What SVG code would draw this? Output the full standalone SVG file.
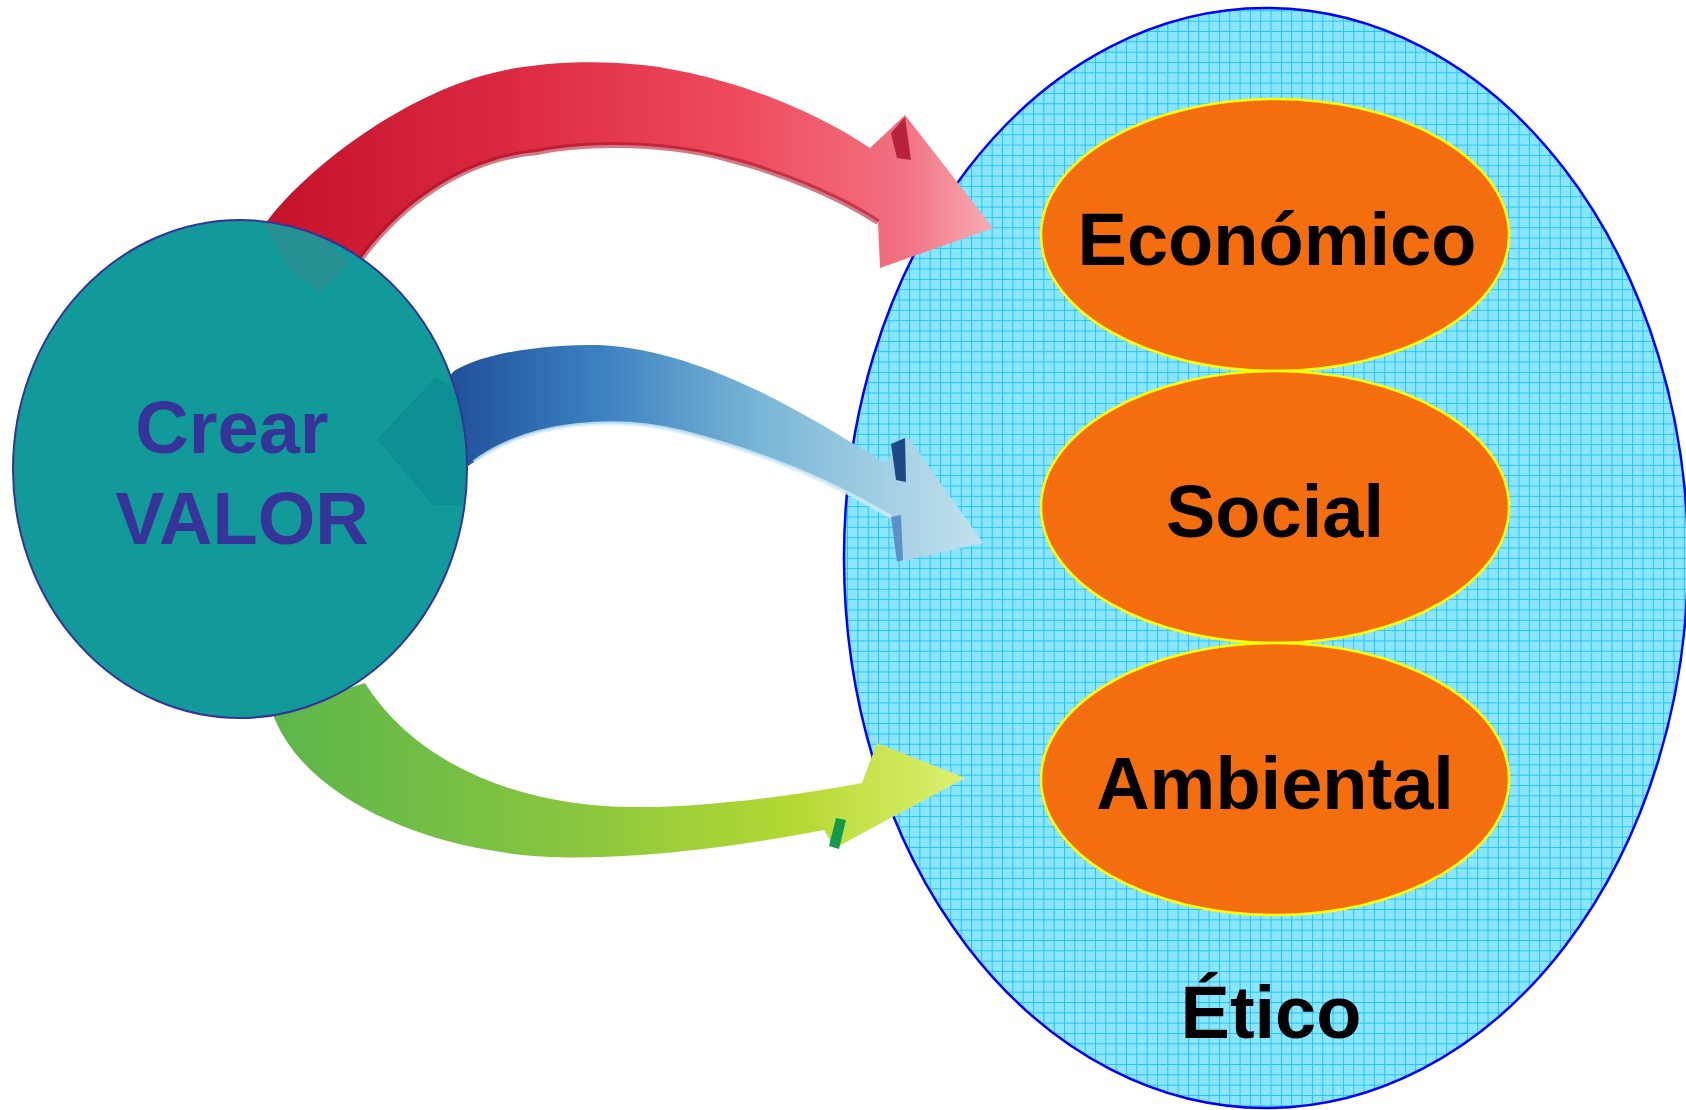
<svg xmlns="http://www.w3.org/2000/svg" width="1686" height="1110" viewBox="0 0 1686 1110">
<style>
.lbl{font-family:"Liberation Sans",Arial,sans-serif;font-weight:bold;font-size:74px;text-anchor:middle;fill:#000}
.crear{font-family:"Liberation Sans",Arial,sans-serif;font-weight:bold;font-size:74px;text-anchor:middle;fill:#363399}
.orange{fill:url(#orangeTex);stroke:#ffff00;stroke-width:2.5}
</style>
<defs>
<pattern id="grid" patternUnits="userSpaceOnUse" width="10.33" height="10.33">
<rect width="10.33" height="10.33" fill="#8be5ff"/>
<path d="M0 0.5 H10.33 M0.5 0 V10.33" stroke="#1fc6f4" stroke-width="1"/>
</pattern>
<pattern id="orangeTex" patternUnits="userSpaceOnUse" width="4" height="4">
<rect width="4" height="4" fill="#fd6c04"/>
<path d="M0 0.5 H4 M0.5 0 V4" stroke="#c2784a" stroke-width="1" opacity="0.35"/>
</pattern>
<linearGradient id="gRed" gradientUnits="userSpaceOnUse" x1="260" y1="200" x2="990" y2="200">
<stop offset="0" stop-color="#c4122a"/>
<stop offset="0.35" stop-color="#dc2a42"/>
<stop offset="0.65" stop-color="#ee4a5e"/>
<stop offset="0.88" stop-color="#f27080"/>
<stop offset="1" stop-color="#f6aab2"/>
</linearGradient>
<linearGradient id="gBlue" gradientUnits="userSpaceOnUse" x1="430" y1="400" x2="985" y2="400">
<stop offset="0" stop-color="#1d4a94"/>
<stop offset="0.3" stop-color="#3a80c0"/>
<stop offset="0.6" stop-color="#7ab6d6"/>
<stop offset="1" stop-color="#c4e2ee"/>
</linearGradient>
<linearGradient id="gGreen" gradientUnits="userSpaceOnUse" x1="280" y1="780" x2="965" y2="780">
<stop offset="0" stop-color="#5cb64a"/>
<stop offset="0.4" stop-color="#86c440"/>
<stop offset="0.75" stop-color="#b4d832"/>
<stop offset="1" stop-color="#def070"/>
</linearGradient>
<clipPath id="circClip">
<ellipse cx="240" cy="469" rx="226" ry="248"/>
</clipPath>
</defs>
<rect width="1686" height="1110" fill="#ffffff"/>

<g id="node-etico">
<ellipse cx="1266" cy="558" rx="422" ry="550" fill="url(#grid)" stroke="#0000ff" stroke-width="2.5"/>
<text class="lbl" x="1271" y="1038">Ético</text>
</g>

<g id="node-economico">
<ellipse class="orange" cx="1275" cy="235" rx="234" ry="136"/>
<text class="lbl" x="1277" y="265">Económico</text>
</g>
<g id="node-social">
<ellipse class="orange" cx="1275" cy="507" rx="234" ry="136"/>
<text class="lbl" x="1275" y="537">Social</text>
</g>
<g id="node-ambiental">
<ellipse class="orange" cx="1275" cy="779" rx="234" ry="136"/>
<text class="lbl" x="1275" y="809">Ambiental</text>
</g>

<g id="connectors">
<g id="arrow-red">
<path d="M 248,244 L 268,220 C 310,165 405,95 489,74 C 540,60 620,58 680,71 C 740,83 810,108 870,148 L 905,115 L 993,228 L 880,268 L 878,222 C 840,197 780,172 728,159 C 670,143 590,141 537,152 C 470,158 395,198 340,290 Z" fill="url(#gRed)"/>
<path d="M 878,222 C 840,197 780,172 728,159 C 670,143 590,141 537,152 C 470,158 395,198 340,290" fill="none" stroke="#a80e22" stroke-width="6" opacity="0.55"/>
<polygon points="891,133 905,117 911,160 897,158" fill="#a81026" opacity="0.8"/>
</g>
<g id="arrow-blue">
<path d="M 420,410 L 454,371 C 490,350 550,345 599,345 C 700,350 800,410 885,463 L 900,440 L 908,437 L 983,543 L 898,562 L 891,517 C 830,480 760,452 682,432 C 620,416 530,420 474,462 L 440,485 Z" fill="url(#gBlue)"/>
<path d="M 891,517 C 830,480 760,452 682,432 C 620,416 530,420 474,462" fill="none" stroke="#d2ecf6" stroke-width="4" opacity="0.8"/>
<polygon points="891,444 905,438 906,482 896,480" fill="#1c4a86"/>
<polygon points="891,517 901,515 903,560 897,562" fill="#5a92c8"/>
</g>
<g id="arrow-green">
<path d="M 272,712 C 300,790 400,835 489,850 C 580,868 720,850 824,830 L 835,848 L 965,778 L 877,743 L 862,783 C 800,795 700,808 633,807 C 530,807 420,770 365,683 Z" fill="url(#gGreen)"/>
<polygon points="829,846 836,818 846,820 839,849" fill="#149a4a"/>
</g>
</g>

<g id="node-crear">
<ellipse cx="240" cy="469" rx="227" ry="249" fill="#129a9a" stroke="#333399" stroke-width="2"/>
<g clip-path="url(#circClip)">
<polygon points="262,222 300,215 350,262 320,292 290,270" fill="#c04a5a" opacity="0.12"/>
<polygon points="377,439 435,378 475,395 475,505 433,505" fill="#0a8a90" opacity="0.7"/>
</g>
<text class="crear" x="232" y="453">Crear</text>
<text class="crear" x="242" y="544">VALOR</text>
</g>
</svg>
